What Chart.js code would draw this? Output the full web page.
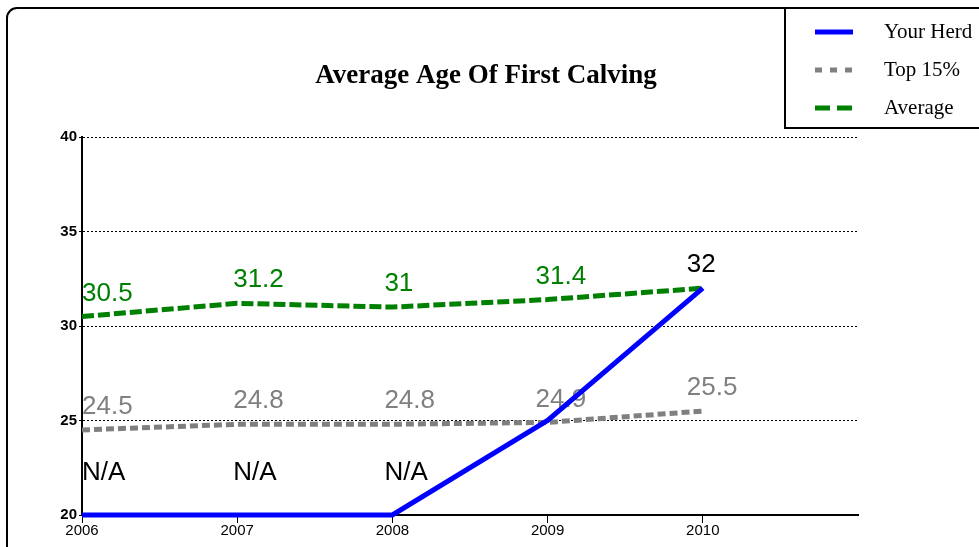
<!DOCTYPE html>
<html>
<head>
<meta charset="utf-8">
<script src="https://cdn.jsdelivr.net/npm/chart.js@4"></script>
<style>
  html, body { margin: 0; padding: 0; background: #fff; }
  #wrap { width: 979px; height: 547px; }
</style>
</head>
<body>
<div id="wrap"><canvas id="calvingChart" width="979" height="547"></canvas></div>
<script>
// chart data
const chartTitle = 'Average Age Of First Calving';
const years = [2006, 2007, 2008, 2009, 2010];
const yourHerd = [20, 20, 20, 25, 32];
const top15 = [24.5, 24.8, 24.8, 24.9, 25.5];
const average = [30.5, 31.2, 31, 31.4, 32];
const yourHerdLabels = ['N/A', 'N/A', 'N/A', '', '32'];
const top15Labels = ['24.5', '24.8', '24.8', '24.9', '25.5'];
const averageLabels = ['30.5', '31.2', '31', '31.4', ''];
const yTicks = [20, 25, 30, 35, 40];

const toPoints = (vals) => vals.map((v, i) => ({ x: years[i], y: v }));

// Draws the frame, title and legend box
const framePlugin = {
    id: 'frame',
    beforeDraw(chart) {
        const ctx = chart.ctx;
        ctx.save();
        ctx.fillStyle = '#fff';
        ctx.fillRect(0, 0, chart.width, chart.height);
        ctx.strokeStyle = '#000';
        ctx.lineWidth = 2;
        ctx.beginPath();
        ctx.roundRect(7, 8, 1100, 700, 10);
        ctx.stroke();

        ctx.fillStyle = '#000';
        ctx.font = 'bold 27px "Liberation Serif", "Times New Roman", serif';
        ctx.textAlign = 'center';
        ctx.textBaseline = 'middle';
        ctx.fillText(chartTitle, 486, 76);
        ctx.restore();
    },
    afterDraw(chart) {
        const ctx = chart.ctx;
        ctx.save();
        ctx.fillStyle = '#fff';
        ctx.fillRect(785, 8, 220, 120);
        ctx.strokeStyle = '#000';
        ctx.lineWidth = 2;
        ctx.strokeRect(785, 8, 220, 120);

        const entries = [
            { text: 'Your Herd', color: '#0000ff', dash: [] },
            { text: 'Top 15%', color: '#808080', dash: [7, 8] },
            { text: 'Average', color: '#008000', dash: [15, 7] }
        ];
        ctx.font = '21px "Liberation Serif", "Times New Roman", serif';
        ctx.textBaseline = 'middle';
        ctx.textAlign = 'left';
        entries.forEach((e, i) => {
            const y = 32 + i * 38;
            ctx.strokeStyle = e.color;
            ctx.lineWidth = 5;
            ctx.setLineDash(e.dash);
            ctx.beginPath();
            ctx.moveTo(815, y);
            ctx.lineTo(853, y);
            ctx.stroke();
            ctx.setLineDash([]);
            ctx.fillStyle = '#000';
            ctx.fillText(e.text, 884, y);
        });
        ctx.restore();
    }
};

// Draws the value labels above the points (under the lines)
const valueLabels = {
    id: 'valueLabels',
    beforeDatasetsDraw(chart) {
        const ctx = chart.ctx;
        ctx.save();
        ctx.font = '26px "Liberation Sans", Arial, sans-serif';
        ctx.textAlign = 'left';
        ctx.textBaseline = 'middle';
        chart.data.datasets.forEach((ds, di) => {
            const meta = chart.getDatasetMeta(di);
            meta.data.forEach((pt, i) => {
                const txt = ds.valueLabels[i];
                if (!txt) return;
                const offset = txt === 'N/A' ? 42 : 23;
                ctx.fillStyle = ds.labelColor;
                ctx.fillText(txt, Math.max(pt.x - i * 4, chart.chartArea.left), pt.y - offset);
            });
        });
        ctx.restore();
    }
};

new Chart(document.getElementById('calvingChart').getContext('2d'), {
    type: 'line',
    data: {
        datasets: [
            {
                label: 'Your Herd',
                data: toPoints(yourHerd),
                borderColor: '#0000ff',
                borderWidth: 5,
                valueLabels: yourHerdLabels,
                labelColor: '#000'
            },
            {
                label: 'Top 15%',
                data: toPoints(top15),
                borderColor: '#808080',
                borderWidth: 5,
                borderDash: [8, 4],
                valueLabels: top15Labels,
                labelColor: '#808080'
            },
            {
                label: 'Average',
                data: toPoints(average),
                borderColor: '#008000',
                borderWidth: 5,
                borderDash: [12, 4],
                valueLabels: averageLabels,
                labelColor: '#008000'
            }
        ]
    },
    options: {
        responsive: false,
        animation: false,
        clip: false,
        elements: {
            point: { radius: 0, hoverRadius: 0 },
            line: { tension: 0, fill: false, borderCapStyle: 'butt' }
        },
        layout: { padding: { left: 8, top: 137, right: 121, bottom: 0 } },
        plugins: {
            legend: { display: false },
            title: { display: false },
            tooltip: { enabled: false }
        },
        scales: {
            x: {
                type: 'linear',
                min: 2006,
                max: 2011,
                afterFit: (s) => { s.height = 32; },
                afterBuildTicks: (s) => {
                    s.ticks = years.concat([2011]).map((v) => ({ value: v }));
                },
                ticks: {
                    color: '#000',
                    font: { family: '"Liberation Sans", Arial, sans-serif', size: 15 },
                    padding: -1,
                    maxRotation: 0,
                    callback: (v) => (years.includes(v) ? String(v) : '')
                },
                grid: {
                    drawOnChartArea: false,
                    drawTicks: true,
                    tickLength: 8,
                    tickColor: (c) => (c.tick && c.tick.value > 2010 ? 'rgba(0,0,0,0)' : '#000'),
                    lineWidth: 1
                },
                border: { display: true, color: '#000', width: 2 }
            },
            y: {
                min: 20,
                max: 40,
                afterFit: (s) => { s.width = 74; },
                afterBuildTicks: (s) => {
                    s.ticks = yTicks.map((v) => ({ value: v }));
                },
                ticks: {
                    color: '#000',
                    font: { family: '"Liberation Sans", Arial, sans-serif', size: 15, weight: 'bold' },
                    padding: 2
                },
                grid: {
                    color: '#000',
                    lineWidth: 1,
                    tickLength: 3
                },
                border: { display: true, color: '#000', width: 2, dash: [2, 2] }
            }
        }
    },
    plugins: [framePlugin, valueLabels]
});
</script>
</body>
</html>
